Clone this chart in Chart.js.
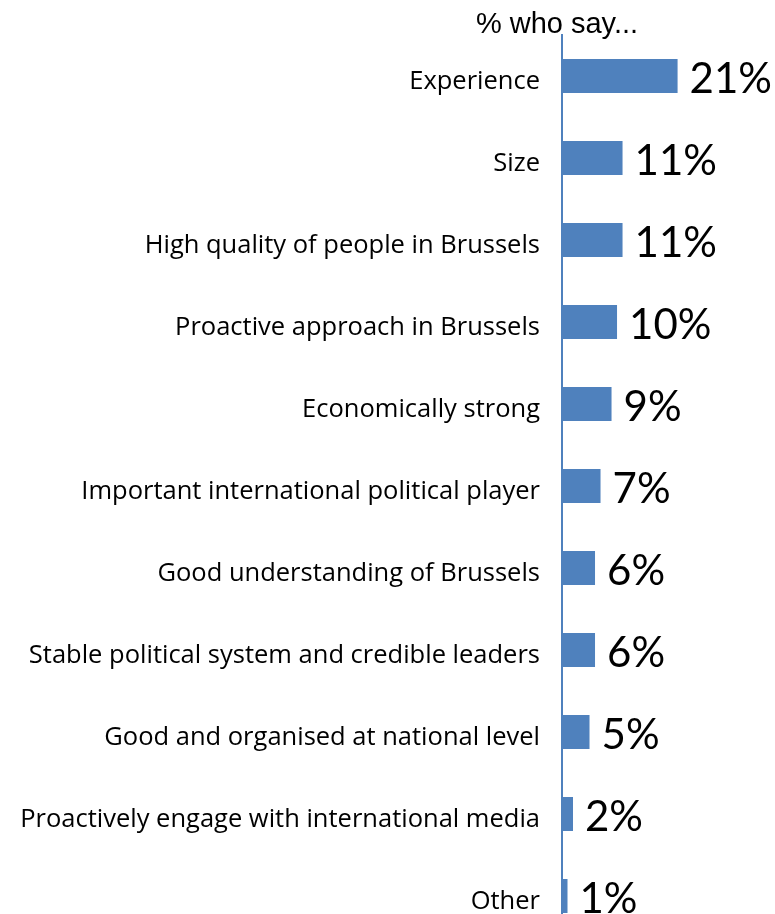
<!DOCTYPE html>
<html>
<head>
<meta charset="utf-8">
<script src="https://cdn.jsdelivr.net/npm/chart.js@4"></script>
<style>
  html, body { margin: 0; padding: 0; background: #fff; }
  #clip { width: 775px; height: 914px; overflow: hidden; }
  canvas { display: block; }
</style>
</head>
<body>
<div id="clip"><canvas id="c" width="775" height="937"></canvas></div>
<script>
"use strict";

const CATEGORIES = [
  "Experience",
  "Size",
  "High quality of people in Brussels",
  "Proactive approach in Brussels",
  "Economically strong",
  "Important international political player",
  "Good understanding of Brussels",
  "Stable political system and credible leaders",
  "Good and organised at national level",
  "Proactively engage with international media",
  "Other",
];
const VALUES = [21, 11, 11, 10, 9, 7, 6, 6, 5, 2, 1];
const TITLE = "% who say...";

const BLUE = "#4F81BD";

// ── Title + value labels ──────────────────────────────────────────────────
const extras = {
  id: "extras",
  afterDatasetsDraw(chart) {
    const { ctx } = chart;
    const x0 = chart.scales.x.getPixelForValue(0);
    ctx.save();
    ctx.fillStyle = "#000";
    ctx.font = "29px 'Liberation Sans', Arial, sans-serif";
    ctx.textAlign = "center";
    ctx.textBaseline = "alphabetic";
    ctx.fillText(TITLE, x0 - 5, 33);

    ctx.font = "42px Lato, sans-serif";
    ctx.textAlign = "left";
    chart.getDatasetMeta(0).data.forEach((bar, i) => {
      ctx.fillText(VALUES[i] + "%", bar.x + 12, bar.y + 17);
    });
    ctx.restore();
  },
};

new Chart(document.getElementById("c"), {
  type: "bar",
  data: {
    labels: CATEGORIES,
    datasets: [{
      data: VALUES,
      backgroundColor: BLUE,
      borderWidth: 0,
      categoryPercentage: 1,
      barPercentage: 0.415,
    }],
  },
  options: {
    indexAxis: "y",
    responsive: false,
    animation: false,
    layout: { padding: { top: 35, right: 0, bottom: 0, left: 0 } },
    scales: {
      x: { display: false, min: 0, max: 38.7 },
      y: {
        afterFit: (s) => { s.width = 562; s.paddingTop = 0; s.paddingBottom = 0; },
        grid: { display: false, drawTicks: false },
        border: { display: true, color: BLUE, width: 2 },
        ticks: { color: "#000", padding: 22, labelOffset: 6, font: { family: "'Open Sans'", size: 25.5 } },
      },
    },
    plugins: { legend: { display: false }, tooltip: { enabled: false } },
  },
  plugins: [extras],
});
</script>
</body>
</html>
